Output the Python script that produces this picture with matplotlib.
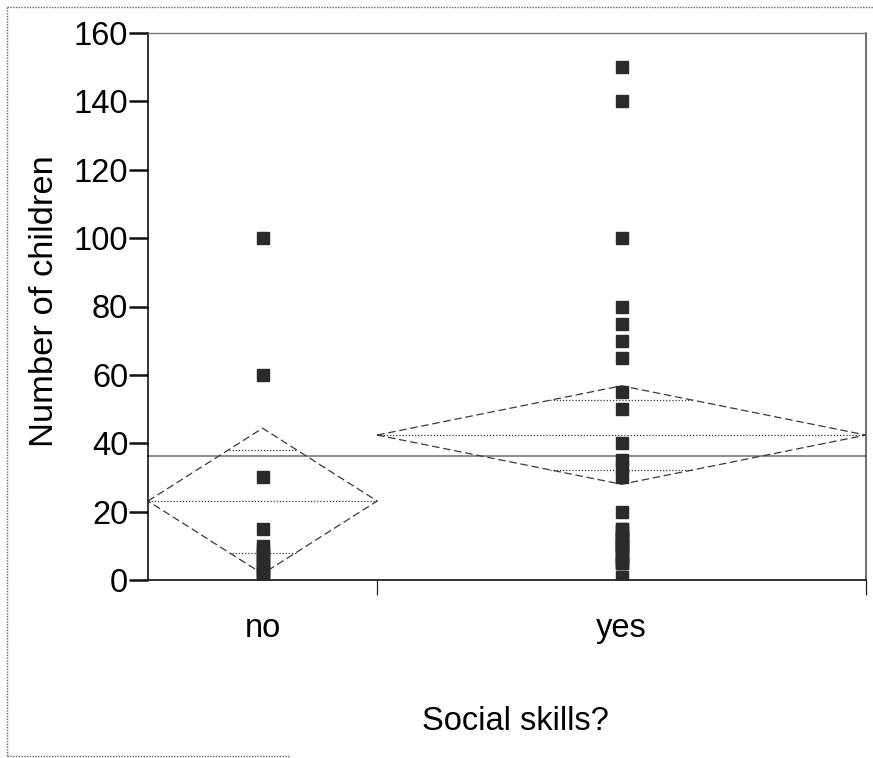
import matplotlib
matplotlib.use("Agg")
import matplotlib.pyplot as plt
from matplotlib.lines import Line2D
import numpy as np

# Data
groups = ["no", "yes"]
no_values = [100, 60, 30, 15, 10, 9, 8, 7, 6, 5, 4, 3, 2, 2, 1]
yes_values = [150, 140, 100, 80, 75, 70, 65, 55, 50, 40, 35, 33, 30, 20,
              15, 15, 14, 13, 12, 12, 11, 10, 10, 10, 9, 8, 7, 6, 5, 5, 5, 1]
group_means = [23.1, 42.4]
group_ci = [21.3, 14.4]      # half width of 95% diamond
grand_mean = 36.3
y_ticks = [0, 20, 40, 60, 80, 100, 120, 140, 160]

plt.rcParams["font.family"] = ["Liberation Sans", "DejaVu Sans"]

fig = plt.figure(figsize=(8.73, 7.58), dpi=100)
ax = fig.add_axes([148 / 873, 1 - 580 / 758, 718 / 873, 547 / 758])

# group widths proportional to sample size
counts = np.array([len(no_values), len(yes_values)])
edges = np.concatenate([[0], np.cumsum(counts) / counts.sum()])
centers = (edges[:-1] + edges[1:]) / 2

dark = "#2a2a2a"
line_c = "#3a3a3a"

ax.axhline(grand_mean, color="#8a8a8a", lw=1.4, zorder=1)

for i, vals in enumerate([no_values, yes_values]):
    x0, x1, xc = edges[i], edges[i + 1], centers[i]
    m, h = group_means[i], group_ci[i]
    # diamond
    ax.plot([x0, xc, x1, xc, x0], [m, m + h, m, m - h, m],
            color=line_c, lw=0.9, ls=(0, (6, 3)), zorder=2)
    # mean line
    ax.plot([x0, x1], [m, m], color=line_c, lw=0.9, ls=(0, (1, 1.5)), zorder=2)
    # overlap marks
    off = h / np.sqrt(2)
    frac = 1 - off / h
    half = (x1 - x0) / 2 * frac
    for y in (m + off, m - off):
        ax.plot([xc - half, xc + half], [y, y], color=line_c, lw=0.9,
                ls=(0, (1, 1.5)), zorder=2)
    ax.plot(np.full(len(vals), xc), vals, ls="none", marker="s", ms=8,
            color=dark, mec=dark, zorder=3)

ax.set_xlim(0, 1)
ax.set_ylim(0, 160)
ax.set_yticks(y_ticks)
ax.set_yticklabels([str(t) for t in y_ticks], fontsize=23.5)
ax.tick_params(axis="y", length=13.7, width=1.8, pad=0.5, color="#111111")

ax.set_xticks(centers)
ax.set_xticklabels(groups, fontsize=23.5)
ax.set_xticks(edges[1:], minor=True)
ax.tick_params(axis="x", which="major", length=0, pad=24)
ax.tick_params(axis="x", which="minor", length=11, width=0.9, color="#222222")

for side in ["left", "bottom"]:
    ax.spines[side].set_color("#111111")
    ax.spines[side].set_linewidth(1.2)
ax.spines["top"].set_color("#777777")
ax.spines["top"].set_linewidth(1.0)
ax.spines["right"].set_color("#444444")
ax.spines["right"].set_linewidth(1.1)

fig.text(45 / 873, 1 - 301 / 758, "Number of children", rotation=90,
         ha="center", va="center", fontsize=24.8)
fig.text(515 / 873, 1 - 721 / 758, "Social skills?", ha="center",
         va="center", fontsize=23.5)

# dotted outer frame (partial, as scanned)
frame_kw = dict(color="#666666", lw=1.0, ls=(0, (1, 1)), transform=fig.transFigure)
fig.add_artist(Line2D([7 / 873, 7 / 873], [1 - 7 / 758, 1 - 756 / 758], **frame_kw))
fig.add_artist(Line2D([7 / 873, 1.0], [1 - 7 / 758, 1 - 7 / 758], **frame_kw))
fig.add_artist(Line2D([7 / 873, 290 / 873], [1 - 756 / 758, 1 - 756 / 758], **frame_kw))

fig.savefig("out.png", dpi=100)
